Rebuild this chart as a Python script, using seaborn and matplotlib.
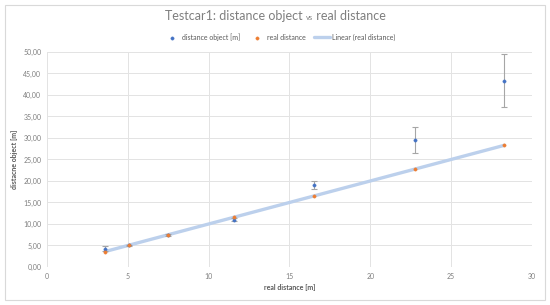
import numpy as np
import pandas as pd
import matplotlib.pyplot as plt
import seaborn as sns
from matplotlib.ticker import FuncFormatter
from matplotlib.patches import Rectangle

# values
real_distance = [3.6, 5.1, 7.5, 11.6, 16.5, 22.8, 28.3]
distance_object = [4.3, 5.0, 7.5, 11.0, 19.1, 29.5, 43.3]
object_error = [0.6, 0.2, 0.2, 0.4, 1.0, 3.0, 6.2]

df = pd.DataFrame({"real": real_distance, "obj": distance_object, "err": object_error})

sns.set_theme(style="whitegrid")
plt.rcParams['font.family'] = ['Lato', 'DejaVu Sans']

blue = "#4472C4"
orange = "#ED7D31"
grey = "#7f7f7f"

fig = plt.figure(figsize=(5.5, 3.05), dpi=100)
fig.patch.set_facecolor("white")
fig.patches.append(Rectangle((0.009, 0.016), 0.982, 0.968, transform=fig.transFigure,
                             fill=False, edgecolor="#d9d9d9", linewidth=0.8))
ax = fig.add_axes([0.0855, 0.1246, 0.8815, 0.705])

# linear trendline on real distance
k, d = np.polyfit(df["real"], df["real"], 1)
trend = pd.DataFrame({"x": [df["real"].min(), df["real"].max()]})
trend["y"] = k * trend["x"] + d
sns.lineplot(data=trend, x="x", y="y", ax=ax, color="#bcd0ec", linewidth=2.4,
             label="Linear (real distance)", zorder=2, legend=False)

ax.errorbar(df["real"], df["obj"], yerr=df["err"], fmt="none", ecolor="#a6a6a6",
            elinewidth=0.8, capsize=2, capthick=0.8, zorder=3)
sns.scatterplot(data=df, x="real", y="obj", ax=ax, color=blue, s=6, edgecolor=blue,
                label="distance object [m]", zorder=4, legend=False)
sns.scatterplot(data=df, x="real", y="real", ax=ax, color=orange, s=6, edgecolor=orange,
                label="real distance", zorder=4, legend=False)

ax.set_xlim(0, 30)
ax.set_ylim(0, 50)
ax.set_xticks(range(0, 31, 5))
ax.set_yticks(range(0, 51, 5))
ax.yaxis.set_major_formatter(FuncFormatter(lambda v, p: f"{v:.2f}".replace(".", ",")))
ax.grid(True, color="#e3e3e3", linewidth=0.7)
for s in ax.spines.values():
    s.set_visible(False)
ax.tick_params(axis="both", labelsize=5, colors=grey, length=0, pad=4)
ax.set_facecolor("none")

ax.set_xlabel("real distance [m]", fontsize=5, color="#595959", fontweight="bold", labelpad=3)
ax.set_ylabel("distacne object [m]", fontsize=5, color="#595959", fontweight="bold", labelpad=4)

# legend in Excel order
handles, labels = ax.get_legend_handles_labels()
order = ["distance object [m]", "real distance", "Linear (real distance)"]
hmap = dict(zip(labels, handles))
fig.legend([hmap[o] for o in order], order, loc="center", bbox_to_anchor=(0.509, 0.879),
           ncol=3, frameon=False, fontsize=5, labelcolor="#595959",
           handlelength=2.3, handletextpad=0.3, columnspacing=1.2, markerscale=1.0)

# title with small "vs"
parts = [("Testcar1: distance object ", 9), ("vs", 5.5), (" real distance", 9)]
fig.canvas.draw()
r = fig.canvas.get_renderer()
texts = []
for txt, size in parts:
    t = fig.text(0, 0.935, txt, fontsize=size, color="#7f7f7f", va="baseline")
    texts.append(t)
widths = [t.get_window_extent(r).width / fig.bbox.width for t in texts]
x0 = 0.5 - sum(widths) / 2
for t, w in zip(texts, widths):
    t.set_x(x0)
    x0 += w

fig.savefig("out.png", dpi=100)
